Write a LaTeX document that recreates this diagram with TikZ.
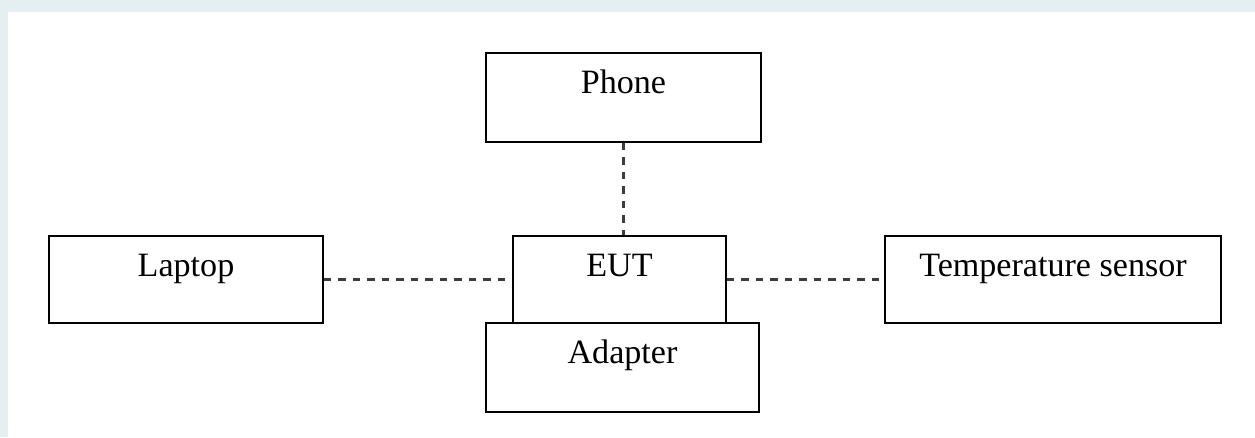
\documentclass[tikz,border=0pt]{standalone}
\usepackage{fontspec}
\setmainfont{Liberation Serif}
\usepackage{xcolor}
\definecolor{pagetint}{RGB}{229,238,241}
\definecolor{linkgray}{RGB}{60,60,60}
\usepackage{tikz}
\usetikzlibrary{calc}
\tikzset{
    device/.style={draw, rectangle, line width=1.1pt, inner xsep=0pt, inner ysep=0pt,
        text height=0.8cm, text depth=0.94cm, font=\fontsize{19.4}{23}\selectfont},
    tall/.style={text depth=0.98cm},
    link/.style={draw=linkgray, line width=1.4pt, dash pattern=on 0.15cm off 0.14cm}
}

\begin{document}
\begin{tikzpicture}
      % page tint along the top and left edge
      \fill[pagetint] (0,0) rectangle (25.1,-8.74);
      \fill[white] (0.16,-0.24) rectangle (25.1,-8.74);

      \path
          (12.47,-1.95) node[device, tall, minimum width=5.5cm] (phone) {Phone}
          (12.39,-5.59) node[device, minimum width=4.26cm] (eut) {EUT}
          (12.45,-7.35) node[device, tall, minimum width=5.46cm] (adapter) {Adapter}
          (3.72,-5.59) node[device, minimum width=5.48cm] (laptop) {Laptop}
          (21.06,-5.59) node[device, minimum width=6.72cm] (sensor) {Temperature sensor};

      \draw[link] (phone.south) -- (phone.south |- eut.north);
      \draw[link] (laptop.east) -- (eut.west);
      \draw[link] (eut.east) -- (sensor.west);
    \end{tikzpicture}
\end{document}
